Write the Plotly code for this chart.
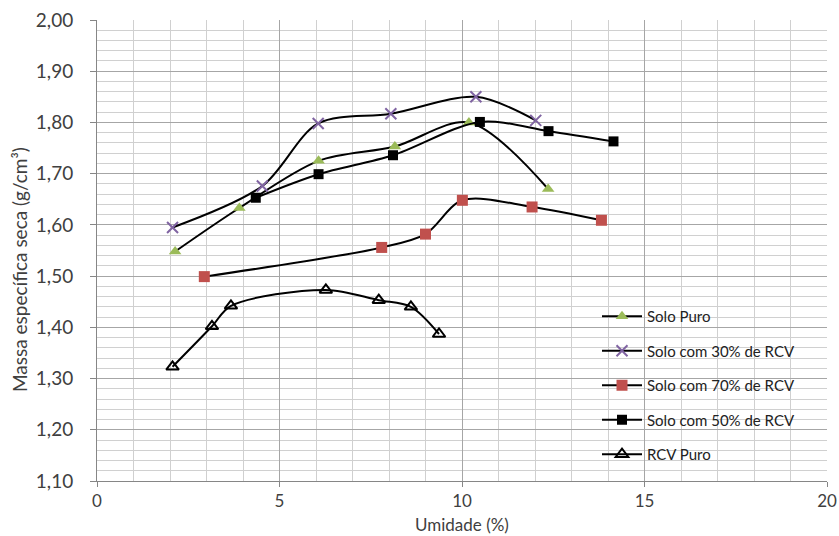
import plotly.graph_objects as go

# Umidade (%) x massa específica seca (g/cm³) for each mixture
solo_puro_x = [2.14, 3.90, 6.07, 8.16, 10.19, 12.36]
solo_puro_y = [1.548, 1.633, 1.725, 1.753, 1.800, 1.670]

solo30_x = [2.07, 4.53, 6.06, 8.05, 10.38, 12.02]
solo30_y = [1.595, 1.676, 1.798, 1.817, 1.850, 1.804]

solo70_x = [2.94, 7.80, 9.00, 10.01, 11.92, 13.82]
solo70_y = [1.499, 1.556, 1.582, 1.648, 1.635, 1.609]

solo50_x = [4.35, 6.07, 8.11, 10.49, 12.37, 14.15]
solo50_y = [1.653, 1.699, 1.736, 1.801, 1.783, 1.763]

rcv_x = [2.07, 3.15, 3.67, 6.27, 7.72, 8.60, 9.37]
rcv_y = [1.323, 1.402, 1.442, 1.473, 1.453, 1.440, 1.387]

FONT = "Lato"
TXT = "#404040"

fig = go.Figure()

series = [
    ("Solo Puro", solo_puro_x, solo_puro_y,
     dict(symbol="triangle-up", size=11, color="#9BBB59", line=dict(width=0))),
    ("Solo com 30% de RCV", solo30_x, solo30_y,
     dict(symbol="x-thin", size=11, color="#8064A2", line=dict(width=2, color="#8064A2"))),
    ("Solo com 70% de RCV", solo70_x, solo70_y,
     dict(symbol="square", size=11, color="#C0504D", line=dict(width=0))),
    ("Solo com 50% de RCV", solo50_x, solo50_y,
     dict(symbol="square", size=10, color="#000000", line=dict(width=0))),
    ("RCV Puro", rcv_x, rcv_y,
     dict(symbol="triangle-up-open", size=11, color="#000000", line=dict(width=2, color="#000000"))),
]

for i, (name, xs, ys, mk) in enumerate(series):
    fig.add_trace(go.Scatter(
        x=xs, y=ys, name=name, mode="lines+markers",
        line=dict(color="#000000", width=2, shape="spline", smoothing=0.9),
        marker=mk, legendgroup=f"g{i}",
    ))

# plot-area geometry in pixels
W, H = 839, 536
L, R, T, B = 97, 12, 20, 55
pw, ph = W - L - R, H - T - B

def px_x(p):
    return (p - L) / pw

def px_y(p):
    return (H - B - p) / ph

# white legend panel over the grid
fig.add_shape(type="rect", xref="paper", yref="paper",
              x0=px_x(580), x1=px_x(813), y0=px_y(473), y1=px_y(297),
              fillcolor="white", line=dict(width=0), layer="between")

# axis titles
fig.add_annotation(text="Umidade (%)", xref="paper", yref="paper",
                   x=px_x(462), y=px_y(524), xanchor="center", yanchor="middle",
                   showarrow=False, font=dict(family=FONT, size=17, color=TXT))
fig.add_annotation(text="Massa específica seca (g/cm³)", xref="paper", yref="paper",
                   x=px_x(19), y=px_y(270), xanchor="center", yanchor="middle",
                   textangle=-90, showarrow=False,
                   font=dict(family=FONT, size=19, color=TXT))

fig.update_layout(
    width=W, height=H,
    margin=dict(l=L, r=R, t=T, b=B, autoexpand=False),
    paper_bgcolor="white", plot_bgcolor="white",
    separators=", ",
    font=dict(family=FONT, size=16, color=TXT),
    showlegend=True,
    legend=dict(
        x=px_x(597), y=px_y(300), xanchor="left", yanchor="top",
        bgcolor="rgba(0,0,0,0)", borderwidth=0,
        font=dict(family=FONT, size=15, color="#222222"),
        tracegroupgap=12, itemwidth=40,
    ),
)

fig.update_xaxes(
    range=[0, 20], dtick=5, tick0=0,
    showgrid=True, gridcolor="#A6A6A6", gridwidth=1,
    minor=dict(dtick=1, showgrid=True, gridcolor="#D0D0D0", gridwidth=1),
    showline=True, linecolor="#868686", linewidth=1,
    ticks="outside", ticklen=5, tickcolor="#868686",
    ticklabelstandoff=0,
    tickfont=dict(family=FONT, size=17, color=TXT),
    zeroline=False, automargin=False,
)

fig.update_yaxes(
    range=[1.10, 2.00], dtick=0.1, tick0=1.10, tickformat=".2f",
    showgrid=True, gridcolor="#A6A6A6", gridwidth=1,
    minor=dict(dtick=0.02, showgrid=True, gridcolor="#D0D0D0", gridwidth=1),
    showline=True, linecolor="#868686", linewidth=1,
    ticks="outside", ticklen=6, tickcolor="#868686",
    ticklabelstandoff=13,
    tickfont=dict(family=FONT, size=19, color=TXT),
    zeroline=False, automargin=False,
)

fig.write_html("out.html")
